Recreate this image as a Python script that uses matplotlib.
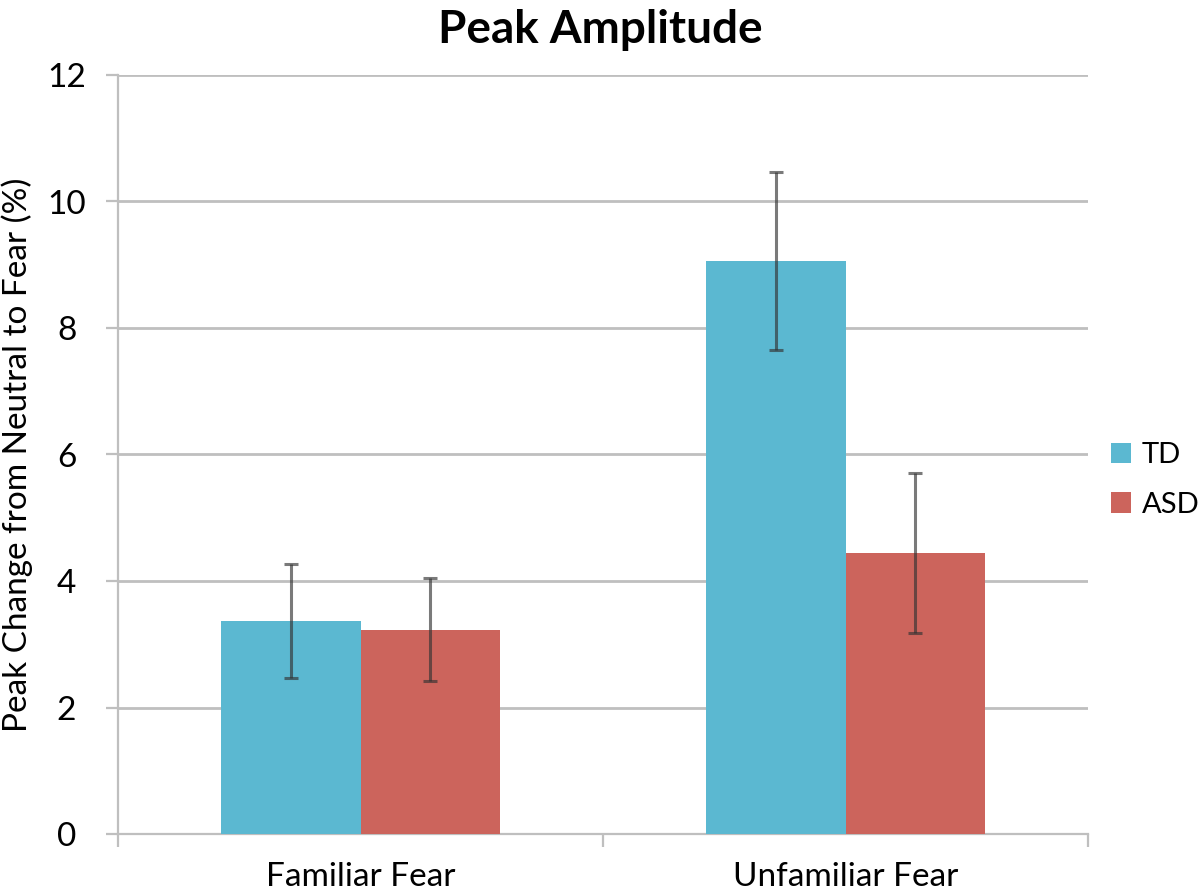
import matplotlib
matplotlib.use("Agg")
import matplotlib.pyplot as plt
import numpy as np

plt.rcParams['font.family'] = ['Lato', 'DejaVu Sans']

categories = ["Familiar Fear", "Unfamiliar Fear"]
series = ["TD", "ASD"]
td_values = [3.37, 9.06]
asd_values = [3.23, 4.44]
td_err = [0.90, 1.40]
asd_err = [0.81, 1.26]
colors = ["#5BB8D1", "#CC645C"]
yticks = [0, 2, 4, 6, 8, 10, 12]

fig = plt.figure(figsize=(12, 8.96), dpi=100)
ax = fig.add_axes([118/1200, (896-834)/896, (1088-118)/1200, (834-75)/896])

x = np.arange(len(categories))
w = 0.288
grid_c = "#BFBFBF"
err_kw = dict(ecolor=(0.2, 0.2, 0.2, 0.65), elinewidth=2.2, capsize=5, capthick=2.2)
b1 = ax.bar(x - w/2, td_values, w, color=colors[0], yerr=td_err, error_kw=err_kw, label=series[0], zorder=3)
b2 = ax.bar(x + w/2, asd_values, w, color=colors[1], yerr=asd_err, error_kw=err_kw, label=series[1], zorder=3)

ax.set_xlim(-0.5, 1.5)
ax.set_ylim(0, 12)
ax.set_yticks(yticks)
ax.set_yticklabels([str(v) for v in yticks], fontsize=24)
ax.yaxis.grid(True, color=grid_c, linewidth=2, zorder=0)
ax.set_axisbelow(True)

ax.set_xticks(x)
ax.set_xticklabels(categories, fontsize=24)
ax.set_xticks([-0.5, 0.5, 1.5], minor=True)
ax.tick_params(axis='x', which='major', length=0, pad=20)
ax.tick_params(axis='x', which='minor', length=9, width=1.6, color=grid_c)
ax.tick_params(axis='y', length=9, width=1.6, color=grid_c, pad=28)
for lab in ax.get_yticklabels():
    lab.set_horizontalalignment('center')

for s in ["top", "right"]:
    ax.spines[s].set_visible(False)
for s in ["left", "bottom"]:
    ax.spines[s].set_color(grid_c)
    ax.spines[s].set_linewidth(1.6)

ax.set_ylabel("Peak Change from Neutral to Fear (%)", fontsize=24)
ax.yaxis.set_label_coords(-0.088, 0.5)

fig.text(0.5, 0.99, "Peak Amplitude", ha='center', va='top', fontsize=33, fontweight='bold')

fig.legend(handles=[b1, b2], labels=series, loc='center left',
           bbox_to_anchor=(1111/1200, (896-480)/896), frameon=False, fontsize=21,
           borderpad=0, borderaxespad=0,
           handlelength=0.7, handleheight=0.7, handletextpad=0.35, labelspacing=0.8)

fig.savefig("out.png", dpi=100)
